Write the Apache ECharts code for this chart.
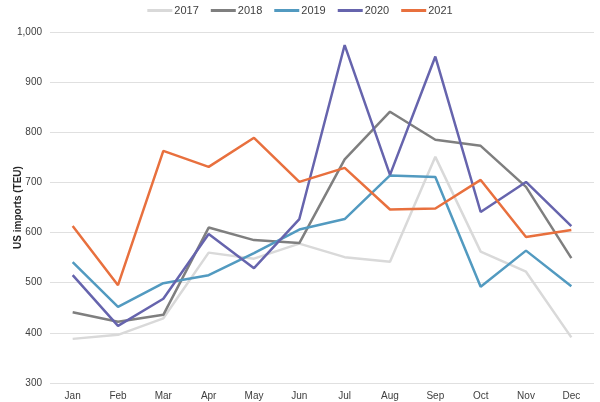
<!DOCTYPE html>
<html><head><meta charset="utf-8">
<script src="https://cdn.jsdelivr.net/npm/echarts@6/dist/echarts.min.js"></script>
<style>html,body{margin:0;padding:0;background:#fff}#c{width:600px;height:402px}</style>
</head><body><div id="c"></div>
<script>
const months = ['Jan','Feb','Mar','Apr','May','Jun','Jul','Aug','Sep','Oct','Nov','Dec'];
const s2017 = [388,396,429,560,548,578,551,542,751,562,522,391];
const s2018 = [441,422,436,610,585,579,746,841,785,773,691,549];
const s2019 = [541,452,499,515,559,606,627,714,711,492,564,493];
const s2020 = [515,414,468,597,529,627,974,715,951,641,701,613];
const s2021 = [613,495,763,731,789,701,729,646,648,705,591,605];
const names = ['2017','2018','2019','2020','2021'];
const colors = ['#d9d9d9','#7f7f7f','#529ac0','#6664ad','#e8703e'];
const data = [s2017,s2018,s2019,s2020,s2021];
const chart = echarts.init(document.getElementById('c'));
const font = 'Liberation Sans, Arial, sans-serif';
chart.setOption({
  animation:false,
  textStyle:{fontFamily:font},
  legend:{top:0,left:'center',itemWidth:25,itemHeight:3,itemGap:12,
    icon:'rect',
    textStyle:{fontSize:11,color:'#404040',fontFamily:font,padding:[0,0,0,-3]},data:names},
  grid:{left:50,right:6,top:32,bottom:19,containLabel:false,outerBoundsMode:'none'},
  xAxis:{type:'category',data:months,boundaryGap:true,
    axisLine:{show:false},axisTick:{show:false},
    axisLabel:{fontSize:10,color:'#404040',margin:8,fontFamily:font}},
  yAxis:{type:'value',min:300,max:1000,interval:100,
    name:'US imports (TEU)',nameLocation:'middle',nameGap:27,nameMoveOverlap:false,
    nameTextStyle:{fontSize:10,fontWeight:'bold',color:'#262626',fontFamily:font},
    axisLine:{show:false},axisTick:{show:false},
    splitLine:{lineStyle:{color:'#e0e0e0',width:1}},
    axisLabel:{fontSize:10,color:'#404040',margin:8,fontFamily:font,
      formatter:v=>v.toLocaleString('en-US')}},
  series:names.map((n,i)=>({name:n,type:'line',data:data[i],symbol:'none',
    lineStyle:{width:2.5,color:colors[i]},itemStyle:{color:colors[i]}}))
});
</script></body></html>
